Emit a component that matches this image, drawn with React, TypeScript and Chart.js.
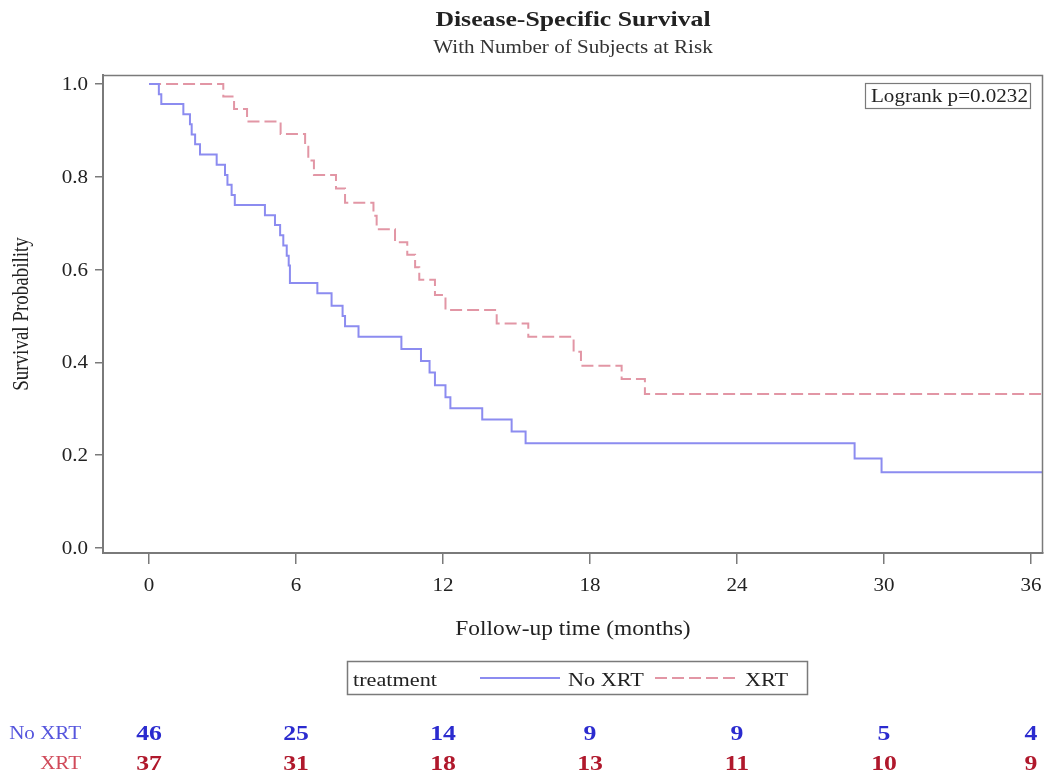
import React, { useEffect, useRef } from 'react';
import { Chart, registerables } from 'chart.js';
Chart.register(...registerables);

// ---------------- data ----------------
const NO_XRT_TIME = [0, 0.4, 0.5, 1.4, 1.67, 1.74, 1.88, 2.08, 2.76, 3.1, 3.2, 3.37, 3.5, 4.73, 5.14, 5.35, 5.48, 5.62, 5.7, 5.75, 6.87, 7.45, 7.9, 8.0, 8.55, 10.3, 11.1, 11.45, 11.67, 12.1, 12.3, 13.6, 14.8, 15.37, 28.8, 29.9, 36.5];
const NO_XRT_SURV = [1, 0.978, 0.957, 0.935, 0.913, 0.891, 0.87, 0.848, 0.826, 0.804, 0.783, 0.761, 0.739, 0.717, 0.696, 0.674, 0.652, 0.63, 0.609, 0.571, 0.549, 0.522, 0.5, 0.478, 0.455, 0.429, 0.403, 0.378, 0.351, 0.325, 0.301, 0.277, 0.251, 0.226, 0.193, 0.163, 0.163];

const XRT_TIME = [0, 3.03, 3.47, 4.0, 5.37, 6.37, 6.5, 6.73, 7.63, 8.0, 9.16, 9.29, 10.04, 10.54, 10.86, 11.03, 11.67, 12.1, 14.19, 15.48, 17.33, 17.63, 19.29, 20.24, 36.5];
const XRT_SURV = [1, 0.973, 0.946, 0.919, 0.892, 0.865, 0.835, 0.804, 0.775, 0.744, 0.716, 0.687, 0.659, 0.632, 0.605, 0.578, 0.545, 0.513, 0.484, 0.455, 0.423, 0.393, 0.364, 0.332, 0.332];

const X_TICKS = [0, 6, 12, 18, 24, 30, 36];
const Y_TICKS = [0, 0.2, 0.4, 0.6, 0.8, 1.0];

const GROUPS = ['No XRT', 'XRT'];
const NO_XRT_RISK = [46, 25, 14, 9, 9, 5, 4];
const XRT_RISK = [37, 31, 18, 13, 11, 10, 9];

const TITLE = 'Disease-Specific Survival';
const SUBTITLE = 'With Number of Subjects at Risk';
const X_TITLE = 'Follow-up time (months)';
const Y_TITLE = 'Survival Probability';
const LOGRANK = 'Logrank p=0.0232';
const LEGEND_TITLE = 'treatment';

// ---------------- styles ----------------
const FONT = '"Liberation Serif", "Times New Roman", Times, serif';
const SX = 1.17;
const BLUE_LINE = 'rgb(140,140,240)';
const RED_LINE = 'rgb(226,150,165)';
const BLUE_LABEL = '#5555dd';
const RED_LABEL = '#d04a5a';
const BLUE_NUM = '#2b2bcf';
const RED_NUM = '#b0182c';
const AXIS = '#7a7a7a';
const TEXT = '#222';

function txt(ctx: CanvasRenderingContext2D, s: string, x: number, y: number, font: string, color: string, align: 'left' | 'center' | 'right') {
  ctx.save();
  ctx.font = font;
  ctx.fillStyle = color;
  ctx.textBaseline = 'alphabetic';
  ctx.textAlign = 'left';
  const w = ctx.measureText(s).width * SX;
  const left = align === 'left' ? x : align === 'center' ? x - w / 2 : x - w;
  ctx.translate(left, y);
  ctx.scale(SX, 1);
  ctx.fillText(s, 0, 0);
  ctx.restore();
}

const decor = {
  id: 'decor',
  afterDraw(chart: any) {
    const ctx: CanvasRenderingContext2D = chart.ctx;
    const { left, right, top, bottom } = chart.chartArea;
    const xs = chart.scales.x;
    const ys = chart.scales.y;
    const cx = (left + right) / 2;

    // frame top/right
    ctx.save();
    ctx.strokeStyle = AXIS;
    ctx.lineWidth = 1.5;
    ctx.beginPath();
    ctx.moveTo(left, top + 0.5);
    ctx.lineTo(right - 0.5, top + 0.5);
    ctx.lineTo(right - 0.5, bottom);
    ctx.stroke();
    ctx.restore();

    // titles
    txt(ctx, TITLE, cx, 26, `bold 22px ${FONT}`, TEXT, 'center');
    txt(ctx, SUBTITLE, cx, 53, `18px ${FONT}`, '#333', 'center');

    // tick labels
    Y_TICKS.forEach(v => {
      const y = ys.getPixelForValue(v);
      txt(ctx, v.toFixed(1), 88, y + 6, `18px ${FONT}`, TEXT, 'right');
    });
    X_TICKS.forEach(v => {
      const x = xs.getPixelForValue(v);
      txt(ctx, String(v), x, 591, `18px ${FONT}`, TEXT, 'center');
    });

    // axis titles
    txt(ctx, X_TITLE, cx, 635, `20px ${FONT}`, TEXT, 'center');
    ctx.save();
    ctx.translate(22, (top + bottom) / 2);
    ctx.rotate(-Math.PI / 2);
    ctx.scale(1, SX);
    ctx.font = `19px ${FONT}`;
    ctx.fillStyle = TEXT;
    ctx.textAlign = 'center';
    ctx.textBaseline = 'middle';
    ctx.fillText(Y_TITLE, 0, 0);
    ctx.restore();

    // logrank box
    ctx.save();
    ctx.strokeStyle = AXIS;
    ctx.lineWidth = 1.2;
    ctx.strokeRect(865.5, 83.5, 165, 25);
    ctx.restore();
    txt(ctx, LOGRANK, 871, 102, `18px ${FONT}`, TEXT, 'left');

    // legend
    ctx.save();
    ctx.strokeStyle = AXIS;
    ctx.lineWidth = 1.5;
    ctx.strokeRect(347.5, 661.5, 460, 33);
    ctx.lineWidth = 2;
    ctx.strokeStyle = BLUE_LINE;
    ctx.beginPath();
    ctx.moveTo(480, 678);
    ctx.lineTo(560, 678);
    ctx.stroke();
    ctx.strokeStyle = RED_LINE;
    ctx.setLineDash([12, 5]);
    ctx.beginPath();
    ctx.moveTo(655, 678);
    ctx.lineTo(735, 678);
    ctx.stroke();
    ctx.restore();
    txt(ctx, LEGEND_TITLE, 353, 686, `19px ${FONT}`, TEXT, 'left');
    txt(ctx, GROUPS[0], 568, 686, `19px ${FONT}`, TEXT, 'left');
    txt(ctx, GROUPS[1], 745, 686, `19px ${FONT}`, TEXT, 'left');

    // at-risk table
    txt(ctx, GROUPS[0], 81, 739, `18px ${FONT}`, BLUE_LABEL, 'right');
    txt(ctx, GROUPS[1], 81, 769, `18px ${FONT}`, RED_LABEL, 'right');
    X_TICKS.forEach((t, i) => {
      const x = xs.getPixelForValue(t);
      txt(ctx, String(NO_XRT_RISK[i]), x, 740, `bold 22px ${FONT}`, BLUE_NUM, 'center');
      txt(ctx, String(XRT_RISK[i]), x, 770, `bold 22px ${FONT}`, RED_NUM, 'center');
    });
  },
};

export default function App() {
  const ref = useRef<HTMLCanvasElement>(null);
  useEffect(() => {
    const canvas = ref.current;
    if (!canvas) return;
    const chart = new Chart(canvas, {
      type: 'line',
      data: {
        datasets: [
          {
            label: GROUPS[0],
            data: NO_XRT_TIME.map((t, i) => ({ x: t, y: NO_XRT_SURV[i] })),
            borderColor: BLUE_LINE,
            borderWidth: 2,
            pointRadius: 0,
            stepped: 'before',
            fill: false,
          },
          {
            label: GROUPS[1],
            data: XRT_TIME.map((t, i) => ({ x: t, y: XRT_SURV[i] })),
            borderColor: RED_LINE,
            borderWidth: 2,
            borderDash: [12, 5],
            pointRadius: 0,
            stepped: 'before',
            fill: false,
          },
        ],
      },
      options: {
        responsive: false,
        animation: false,
        devicePixelRatio: 1,
        layout: { padding: { top: 75, right: 7, left: 0, bottom: 0 } },
        plugins: { legend: { display: false }, tooltip: { enabled: false }, title: { display: false } },
        scales: {
          x: {
            type: 'linear',
            min: -1.88,
            max: 36.49,
            afterBuildTicks: (s: any) => { s.ticks = X_TICKS.map(v => ({ value: v })); },
            afterFit: (s: any) => { s.height = 229; },
            ticks: { display: false },
            grid: { drawOnChartArea: false, drawTicks: true, tickLength: 11, color: AXIS, lineWidth: 1.5 },
            border: { display: true, color: AXIS, width: 2 },
          },
          y: {
            type: 'linear',
            min: -0.0108,
            max: 1.0194,
            afterBuildTicks: (s: any) => { s.ticks = Y_TICKS.map(v => ({ value: v })); },
            afterFit: (s: any) => { s.width = 103; },
            ticks: { display: false },
            grid: { drawOnChartArea: false, drawTicks: true, tickLength: 8, color: AXIS, lineWidth: 1.5 },
            border: { display: true, color: AXIS, width: 2 },
          },
        },
      },
      plugins: [decor],
    } as any);
    return () => chart.destroy();
  }, []);
  return (
    <div style={{ position: 'absolute', left: 0, top: 0, width: 1050, height: 782, background: '#fff' }}>
      <canvas ref={ref} width={1050} height={782} style={{ display: 'block', width: 1050, height: 782 }} />
    </div>
  );
}
